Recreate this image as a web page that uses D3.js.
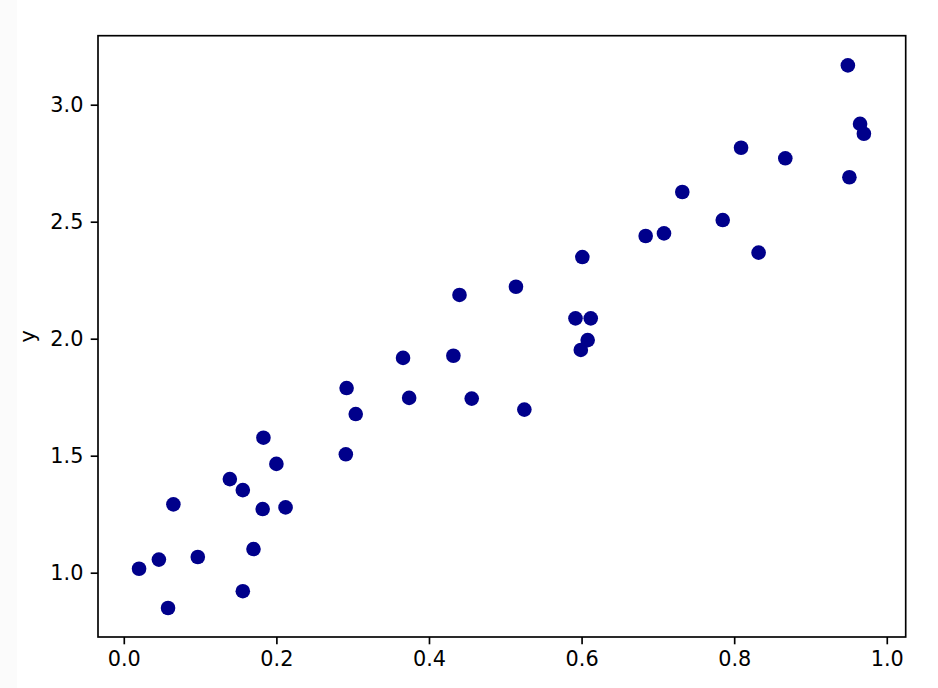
<!DOCTYPE html>
<html>
<head>
<meta charset="utf-8">
<script src="https://cdn.jsdelivr.net/npm/d3@7"></script>
<style>
  html, body { margin: 0; padding: 0; background: #ffffff; }
  svg { display: block; }
  text { font-family: "DejaVu Sans", sans-serif; fill: #000; }
</style>
</head>
<body>
<svg id="chart" width="938" height="688"></svg>
<script>
const xValues = [0.020, 0.046, 0.058, 0.065, 0.097, 0.139, 0.156, 0.156, 0.170, 0.183,
                 0.182, 0.200, 0.212, 0.292, 0.291, 0.304, 0.366, 0.374, 0.432, 0.440,
                 0.456, 0.514, 0.525, 0.592, 0.601, 0.599, 0.608, 0.612, 0.684, 0.708,
                 0.732, 0.785, 0.809, 0.832, 0.867, 0.949, 0.951, 0.965, 0.970];
const yValues = [1.017, 1.056, 0.849, 1.292, 1.067, 1.400, 1.353, 0.921, 1.101, 1.577,
                 1.272, 1.465, 1.279, 1.789, 1.506, 1.678, 1.918, 1.747, 1.927, 2.187,
                 1.744, 2.222, 1.697, 2.087, 2.349, 1.952, 1.994, 2.087, 2.439, 2.450,
                 2.627, 2.507, 2.816, 2.368, 2.771, 3.168, 2.690, 2.918, 2.876];
const xTicks = [0.0, 0.2, 0.4, 0.6, 0.8, 1.0];
const yTicks = [1.0, 1.5, 2.0, 2.5, 3.0];
const yLabel = "y";

const svg = d3.select("#chart");
const pLeft = 98, pRight = 905.7, pTop = 35.7, pBottom = 637;

// faint strip on the left edge as in reference
svg.append("rect").attr("x", 0).attr("y", 0).attr("width", 17).attr("height", 688).attr("fill", "#fbfbfb");

const x = d3.scaleLinear().domain([-0.0338, 1.0248]).range([pLeft, pRight]);
const y = d3.scaleLinear().domain([0.7252, 3.2949]).range([pBottom, pTop]);

const fontPx = 20.8, tickLen = 7.3, lw = 1.67;

const xAxis = d3.axisBottom(x).tickValues(xTicks).tickFormat(d3.format(".1f"))
  .tickSizeInner(tickLen).tickSizeOuter(0).tickPadding(7.3);
const yAxis = d3.axisLeft(y).tickValues(yTicks).tickFormat(d3.format(".1f"))
  .tickSizeInner(tickLen).tickSizeOuter(0).tickPadding(7.3);

const gx = svg.append("g").attr("transform", `translate(0,${pBottom})`).call(xAxis);
const gy = svg.append("g").attr("transform", `translate(${pLeft},0)`).call(yAxis);
[gx, gy].forEach(g => {
  g.select(".domain").remove();
  g.selectAll(".tick line").attr("stroke", "#000").attr("stroke-width", lw);
  g.selectAll(".tick text").attr("font-size", fontPx).attr("font-family", "DejaVu Sans").attr("fill", "#000");
});

// points
svg.append("g").selectAll("circle").data(xValues.map((v, i) => [v, yValues[i]]))
  .join("circle")
  .attr("cx", d => x(d[0]))
  .attr("cy", d => y(d[1]))
  .attr("r", 7.3)
  .attr("fill", "#00008b");

// frame
svg.append("rect").attr("x", pLeft).attr("y", pTop)
  .attr("width", pRight - pLeft).attr("height", pBottom - pTop)
  .attr("fill", "none").attr("stroke", "#000").attr("stroke-width", lw);

// y label
svg.append("text")
  .attr("transform", `translate(35,${(pTop + pBottom) / 2}) rotate(-90)`)
  .attr("text-anchor", "middle")
  .attr("font-size", fontPx)
  .text(yLabel);
</script>
</body>
</html>
